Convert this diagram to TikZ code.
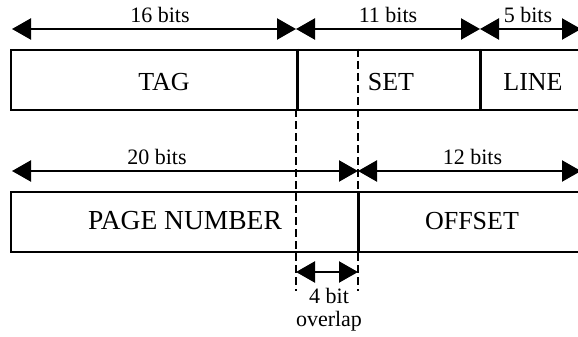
\documentclass[tikz,border=0pt]{standalone}
\usepackage{fontspec}
\setmainfont{Liberation Serif}
\usetikzlibrary{arrows.meta}
\begin{document}
\begin{tikzpicture}[x=1pt,y=-1pt,
  field/.style={draw,line width=1.7pt,rectangle,inner sep=0pt,anchor=north west},
  bitlabel/.style={anchor=base,inner sep=0pt,font=\fontsize{22}{22}\selectfont},
  fieldlabel/.style={anchor=base,inner sep=0pt,font=\fontsize{26}{26}\selectfont},
  span/.style={line width=2.3pt,{Triangle[length=19pt,width=21pt]}-{Triangle[length=19pt,width=21pt]}},
  guide/.style={line width=1.5pt,dash pattern=on 8pt off 4pt},
  divider/.style={line width=2.1pt}]
\useasboundingbox (0,0) rectangle (578,337);
\clip (0,0) rectangle (578,337);
\fill[white] (0,0) rectangle (578,337);

% cache address fields
\node[field,minimum width=286pt,minimum height=60pt] (tag) at (10,49) {};
\node[field,minimum width=184pt,minimum height=60pt] (set) at (296,49) {};
\node[field,minimum width=110pt,minimum height=60pt] (line) at (480,49) {};

% virtual address fields
\node[field,minimum width=348pt,minimum height=60pt] (page) at (10,191) {};
\node[field,minimum width=232pt,minimum height=60pt] (offset) at (358,191) {};

% overlap guides
\coordinate (g1top) at (296,109);
\coordinate (g1bot) at (296,291);
\coordinate (g2top) at (358,49);
\coordinate (g2bot) at (358,291);
\draw[guide] (g1top) -- (g1bot);
\draw[guide] (g2top) -- (g2bot);
\draw[divider] (tag.north east) -- (tag.south east);
\draw[divider] (line.north west) -- (line.south west);
\draw[divider] (offset.north west) -- (offset.south west);

% bit-width spans, top row
\coordinate (t0) at (12,29);
\coordinate (t1) at (296,29);
\coordinate (t2) at (480,29);
\coordinate (t3) at (581,29);
\draw[span] (t0) -- (t1);
\draw[span] (t1) -- (t2);
\draw[span] (t2) -- (t3);

% bit-width spans, bottom row
\coordinate (b0) at (12,171);
\coordinate (b1) at (358,171);
\coordinate (b2) at (581,171);
\draw[span] (b0) -- (b1);
\draw[span] (b1) -- (b2);

% overlap span
\coordinate (o0) at (296,272);
\coordinate (o1) at (358,272);
\draw[span] (o0) -- (o1);

% labels
\node[bitlabel] (l16) at (160,22.5) {16 bits};
\node[bitlabel] (l11) at (388,22.5) {11 bits};
\node[bitlabel] (l5) at (528,22.5) {5 bits};
\node[bitlabel] (l20) at (157,164) {20 bits};
\node[bitlabel] (l12) at (472.5,164) {12 bits};
\node[bitlabel] (l4) at (329,303) {4 bit};
\node[bitlabel] (lov) at (329,326) {overlap};

\node[fieldlabel] (ttag) at (164,90.5) {TAG};
\node[fieldlabel] (tset) at (391,90.5) {SET};
\node[fieldlabel] (tline) at (533,90.5) {LINE};
\node[fieldlabel,font=\fontsize{27.5}{27.5}\selectfont] (tpage) at (185,229) {PAGE NUMBER};
\node[fieldlabel] (toff) at (472,229) {OFFSET};
\end{tikzpicture}
\end{document}
